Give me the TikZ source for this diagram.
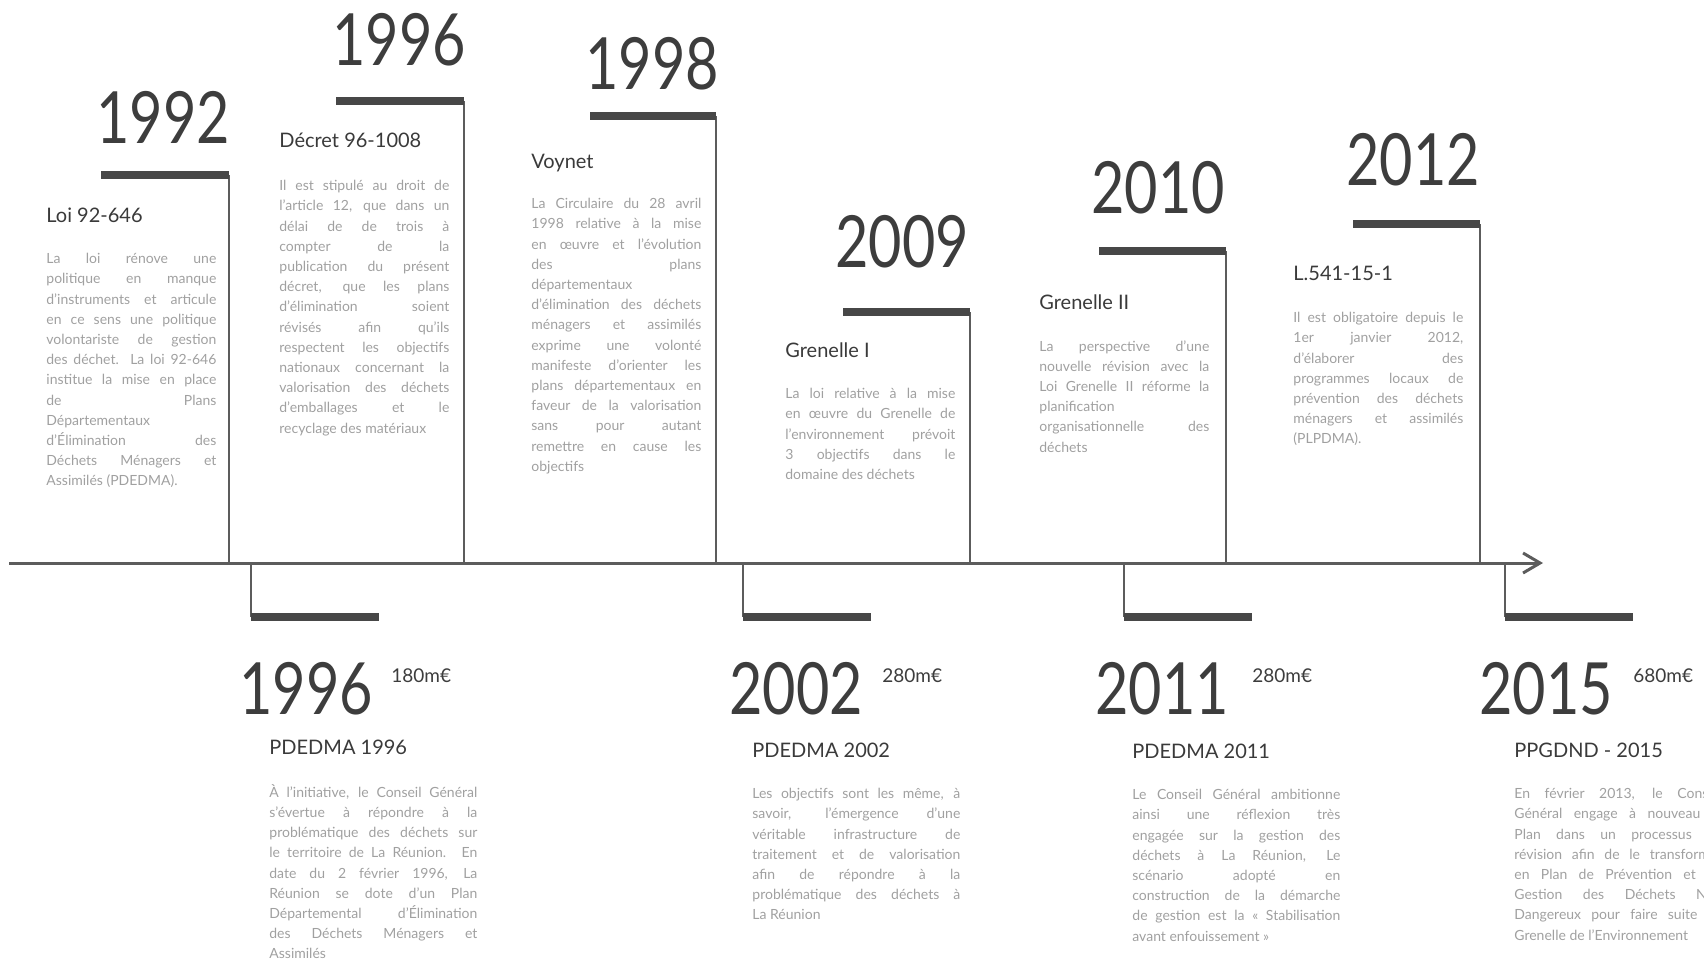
\documentclass[tikz,border=0pt]{standalone}
\usepackage{fontspec}
\setmainfont{Lato}
\newfontfamily\yearfont{Lato}[FakeStretch=0.8]
\usetikzlibrary{arrows.meta}
\definecolor{yeargray}{HTML}{3D3D3D}
\definecolor{titlegray}{HTML}{3A3A3A}
\definecolor{bodygray}{HTML}{A0A0A0}
\definecolor{linegray}{HTML}{5C5C5C}
\definecolor{bargray}{HTML}{474747}
\tolerance=10000
\hbadness=10000
\hyphenpenalty=10000

\begin{document}
\begin{tikzpicture}[x=0.5pt, y=-0.5pt,
    year/.style={text=yeargray, inner sep=0, anchor=base, font=\yearfont\fontsize{36}{36}\selectfont},
    money/.style={text=yeargray, inner sep=0, anchor=base west, font=\fontsize{9.5}{11}\selectfont},
    title/.style={text=titlegray, inner sep=0, anchor=base west, font=\fontsize{10}{12}\selectfont},
    body/.style={text=bodygray, inner sep=0, anchor=north west, align=justify, text width=85pt,
      font=\fontsize{7}{10.1}\selectfont},
    widebody/.style={body, text width=104pt},
    bar/.style={draw=bargray, line width=4pt},
    stem/.style={draw=linegray, line width=1pt},
    axis/.style={draw=linegray, line width=1.5pt, -{Straight Barb[length=8.5pt,width=10pt]}}]
  \useasboundingbox (0,0) rectangle (1704,960);

  % time axis
  \coordinate (start) at (9,563);
  \coordinate (end) at (1543,563);
  \draw[axis] (start) -- (end);

  % markers above the axis
  \coordinate (t92l) at (101,175);  \coordinate (t92r) at (229,175);  \coordinate (t92a) at (229,563);
  \coordinate (t96l) at (336,101);  \coordinate (t96r) at (464,101);  \coordinate (t96a) at (464,563);
  \coordinate (t98l) at (590,116);  \coordinate (t98r) at (716,116);  \coordinate (t98a) at (716,563);
  \coordinate (t09l) at (843,312);  \coordinate (t09r) at (970,312);  \coordinate (t09a) at (970,563);
  \coordinate (t10l) at (1099,251); \coordinate (t10r) at (1226,251); \coordinate (t10a) at (1226,563);
  \coordinate (t12l) at (1353,224); \coordinate (t12r) at (1480,224); \coordinate (t12a) at (1480,563);
  \draw[stem] (t92r) -- (t92a);  \draw[bar] (t92l) -- (t92r);
  \draw[stem] (t96r) -- (t96a);  \draw[bar] (t96l) -- (t96r);
  \draw[stem] (t98r) -- (t98a);  \draw[bar] (t98l) -- (t98r);
  \draw[stem] (t09r) -- (t09a);  \draw[bar] (t09l) -- (t09r);
  \draw[stem] (t10r) -- (t10a);  \draw[bar] (t10l) -- (t10r);
  \draw[stem] (t12r) -- (t12a);  \draw[bar] (t12l) -- (t12r);

  % markers below the axis
  \coordinate (b96a) at (251,563);  \coordinate (b96l) at (251,617);  \coordinate (b96r) at (379,617);
  \coordinate (b02a) at (743,563);  \coordinate (b02l) at (743,617);  \coordinate (b02r) at (871,617);
  \coordinate (b11a) at (1124,563); \coordinate (b11l) at (1124,617); \coordinate (b11r) at (1252,617);
  \coordinate (b15a) at (1505,563); \coordinate (b15l) at (1505,617); \coordinate (b15r) at (1633,617);
  \draw[stem] (b96a) -- (b96l);  \draw[bar] (b96l) -- (b96r);
  \draw[stem] (b02a) -- (b02l);  \draw[bar] (b02l) -- (b02r);
  \draw[stem] (b11a) -- (b11l);  \draw[bar] (b11l) -- (b11r);
  \draw[stem] (b15a) -- (b15l);  \draw[bar] (b15l) -- (b15r);

  % years
  \node[year] (y92) at (163,143) {1992};
  \node[year] (y96) at (399,65) {1996};
  \node[year] (y98) at (652,89) {1998};
  \node[year] (y09) at (902,267) {2009};
  \node[year] (y10) at (1158,213) {2010};
  \node[year] (y12) at (1413,185) {2012};
  \node[year] (z96) at (306,714) {1996};
  \node[year] (z02) at (796,714) {2002};
  \node[year] (z11) at (1162,714) {2011};
  \node[year] (z15) at (1546,714) {2015};
  \node[money] (m96) at (391,682) {180m€};
  \node[money] (m02) at (882,682) {280m€};
  \node[money] (m11) at (1252,682) {280m€};
  \node[money] (m15) at (1633,682) {680m€};

  % texts above
  \node[title] (h92) at (46,222) {Loi 92-646};
  \node[body] (p92) at (46,253) {La loi rénove une\linebreak
    politique en manque\linebreak
    d'instruments et articule\linebreak
    en ce sens une politique\linebreak
    volontariste de gestion\linebreak
    des déchet. La loi 92-646\linebreak
    institue la mise en place\linebreak
    de Plans\linebreak
    Départementaux\linebreak
    d'Élimination des\linebreak
    Déchets Ménagers et\linebreak
    Assimilés (PDEDMA).};
  \node[title] (h96) at (279,147) {Décret 96-1008};
  \node[body] (p96) at (279,180) {Il est stipulé au droit de\linebreak
    l'article 12, que dans un\linebreak
    délai de de trois à\linebreak
    compter de la\linebreak
    publication du présent\linebreak
    décret, que les plans\linebreak
    d'élimination soient\linebreak
    révisés afin qu'ils\linebreak
    respectent les objectifs\linebreak
    nationaux concernant la\linebreak
    valorisation des déchets\linebreak
    d'emballages et le\linebreak
    recyclage des matériaux};
  \node[title] (h98) at (531,168) {Voynet};
  \node[body] (p98) at (531,198) {La Circulaire du 28 avril\linebreak
    1998 relative à la mise\linebreak
    en œuvre et l'évolution\linebreak
    des plans\linebreak
    départementaux\linebreak
    d'élimination des déchets\linebreak
    ménagers et assimilés\linebreak
    exprime une volonté\linebreak
    manifeste d'orienter les\linebreak
    plans départementaux en\linebreak
    faveur de la valorisation\linebreak
    sans pour autant\linebreak
    remettre en cause les\linebreak
    objectifs};
  \node[title] (h09) at (785,357) {Grenelle I};
  \node[body] (p09) at (785,388) {La loi relative à la mise\linebreak
    en œuvre du Grenelle de\linebreak
    l'environnement prévoit\linebreak
    3 objectifs dans le\linebreak
    domaine des déchets};
  \node[title] (h10) at (1039,309) {Grenelle II};
  \node[body] (p10) at (1039,340) {La perspective d'une\linebreak
    nouvelle révision avec la\linebreak
    Loi Grenelle II réforme la\linebreak
    planification\linebreak
    organisationnelle des\linebreak
    déchets};
  \node[title] (h12) at (1293,280) {L.541-15-1};
  \node[body] (p12) at (1293,312) {Il est obligatoire depuis le\linebreak
    1er janvier 2012,\linebreak
    d'élaborer des\linebreak
    programmes locaux de\linebreak
    prévention des déchets\linebreak
    ménagers et assimilés\linebreak
    (PLPDMA).};

  % texts below
  \node[title] (k96) at (269,754) {PDEDMA 1996};
  \node[widebody] (q96) at (269,784) {À l'initiative, le Conseil Général\linebreak
    s'évertue à répondre à la\linebreak
    problématique des déchets sur\linebreak
    le territoire de La Réunion. En\linebreak
    date du 2 février 1996, La\linebreak
    Réunion se dote d'un Plan\linebreak
    Départemental d'Élimination\linebreak
    des Déchets Ménagers et\linebreak
    Assimilés};
  \node[title] (k02) at (752,757) {PDEDMA 2002};
  \node[widebody] (q02) at (752,788) {Les objectifs sont les même, à\linebreak
    savoir, l'émergence d'une\linebreak
    véritable infrastructure de\linebreak
    traitement et de valorisation\linebreak
    afin de répondre à la\linebreak
    problématique des déchets à\linebreak
    La Réunion};
  \node[title] (k11) at (1132,758) {PDEDMA 2011};
  \node[widebody] (q11) at (1132,789) {Le Conseil Général ambitionne\linebreak
    ainsi une réflexion très\linebreak
    engagée sur la gestion des\linebreak
    déchets à La Réunion, Le\linebreak
    scénario adopté en\linebreak
    construction de la démarche\linebreak
    de gestion est la « Stabilisation\linebreak
    avant enfouissement »};
  \node[title] (k15) at (1514,757) {PPGDND - 2015};
  \node[widebody] (q15) at (1514,788) {En février 2013, le Conseil\linebreak
    Général engage à nouveau le\linebreak
    Plan dans un processus de\linebreak
    révision afin de le transformer\linebreak
    en Plan de Prévention et de\linebreak
    Gestion des Déchets Non\linebreak
    Dangereux pour faire suite au\linebreak
    Grenelle de l'Environnement};
\end{tikzpicture}
\end{document}
